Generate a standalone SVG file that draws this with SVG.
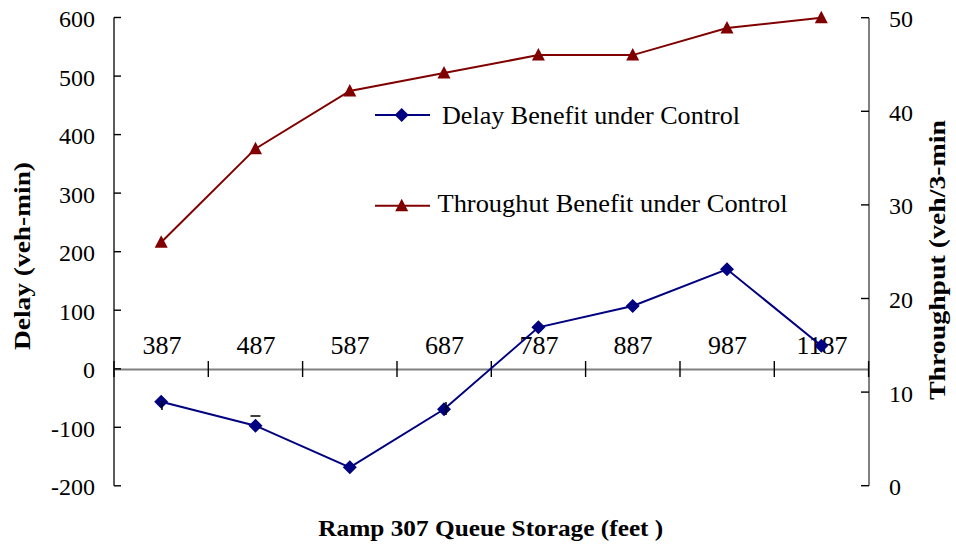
<svg xmlns="http://www.w3.org/2000/svg" width="956" height="548" viewBox="0 0 956 548">
  <style>
    text { font-family: "Liberation Serif", "Times New Roman", serif; fill: #000; }
    .tick { font-size: 24px; }
    .cat { font-size: 26px; text-anchor: middle; }
    .leg { font-size: 26px; }
    .title { font-size: 23px; font-weight: bold; text-anchor: middle; }
    .axis { stroke: #808080; stroke-width: 2; fill: none; }
    .axisL { stroke: #333; stroke-width: 1.6; fill: none; }
    .tk { stroke: #000; stroke-width: 1.4; }
    .delay { stroke: #000080; stroke-width: 2; fill: none; }
    .thru { stroke: #800000; stroke-width: 2; fill: none; }
  </style>
  <defs>
    <polygon id="diamond" points="0,-7 7,0 0,7 -7,0" fill="#000080"/>
    <polygon id="tri" points="0,-7 6.5,5.5 -6.5,5.5" fill="#800000"/>
  </defs>
  <rect width="956" height="548" fill="#fff"/>

  <!-- axes -->
  <g id="axes">
    <line class="axisL" x1="114" y1="17.5" x2="114" y2="485.8"/>
    <line class="axis" x1="869" y1="17.7" x2="869" y2="485.7"/>
    <line class="axis" x1="114" y1="369.5" x2="869" y2="369.5"/>
    <g class="tk">
      <!-- left ticks (inside) -->
      <line x1="114" y1="17.5" x2="121" y2="17.5"/>
      <line x1="114" y1="76.1" x2="121" y2="76.1"/>
      <line x1="114" y1="134.6" x2="121" y2="134.6"/>
      <line x1="114" y1="193.1" x2="121" y2="193.1"/>
      <line x1="114" y1="251.7" x2="121" y2="251.7"/>
      <line x1="114" y1="310.2" x2="121" y2="310.2"/>
      <line x1="114" y1="368.8" x2="121" y2="368.8"/>
      <line x1="114" y1="427.3" x2="121" y2="427.3"/>
      <line x1="114" y1="485.8" x2="121" y2="485.8"/>
      <!-- right ticks (inside) -->
      <line x1="861" y1="17.7" x2="869" y2="17.7"/>
      <line x1="861" y1="111.3" x2="869" y2="111.3"/>
      <line x1="861" y1="204.9" x2="869" y2="204.9"/>
      <line x1="861" y1="298.5" x2="869" y2="298.5"/>
      <line x1="861" y1="392.1" x2="869" y2="392.1"/>
      <line x1="861" y1="485.7" x2="869" y2="485.7"/>
      <!-- category ticks (cross) -->
      <line x1="114" y1="361" x2="114" y2="377"/>
      <line x1="208.3" y1="361" x2="208.3" y2="377"/>
      <line x1="302.6" y1="361" x2="302.6" y2="377"/>
      <line x1="397" y1="361" x2="397" y2="377"/>
      <line x1="491.3" y1="361" x2="491.3" y2="377"/>
      <line x1="585.6" y1="361" x2="585.6" y2="377"/>
      <line x1="680" y1="361" x2="680" y2="377"/>
      <line x1="774.3" y1="361" x2="774.3" y2="377"/>
      <line x1="868.6" y1="361" x2="868.6" y2="377"/>
    </g>
  </g>

  <!-- left axis labels -->
  <g id="left-labels">
    <text x="95" y="27" class="tick" text-anchor="end">600</text>
    <text x="95" y="85.6" class="tick" text-anchor="end">500</text>
    <text x="95" y="144.1" class="tick" text-anchor="end">400</text>
    <text x="95" y="202.6" class="tick" text-anchor="end">300</text>
    <text x="95" y="261.2" class="tick" text-anchor="end">200</text>
    <text x="95" y="319.7" class="tick" text-anchor="end">100</text>
    <text x="95" y="378.3" class="tick" text-anchor="end">0</text>
    <text x="95" y="436.8" class="tick" text-anchor="end">-100</text>
    <text x="95" y="495.3" class="tick" text-anchor="end">-200</text>
  </g>

  <!-- right axis labels -->
  <g id="right-labels">
    <text x="889" y="27.2" class="tick">50</text>
    <text x="889" y="120.8" class="tick">40</text>
    <text x="889" y="214.4" class="tick">30</text>
    <text x="889" y="308" class="tick">20</text>
    <text x="889" y="401.6" class="tick">10</text>
    <text x="889" y="495.2" class="tick">0</text>
  </g>

  <!-- category labels -->
  <g id="categories">
    <text x="162" y="353.5" class="cat">387</text>
    <text x="256" y="353.5" class="cat">487</text>
    <text x="350" y="353.5" class="cat">587</text>
    <text x="444.5" y="353.5" class="cat">687</text>
    <text x="539" y="353.5" class="cat">787</text>
    <text x="633" y="353.5" class="cat">887</text>
    <text x="727.5" y="353.5" class="cat">987</text>
    <text x="822" y="353.5" class="cat">1187</text>
  </g>

  <!-- data series -->
  <g id="connectors">
    <polyline id="delay-line" class="delay" points="161.2,401.7 255.5,425.7 349.8,467.3 444,409.3 538.4,327.3 632.7,306 727,269.3 821.3,345.7"/>
    <polyline id="thru-line" class="thru" points="161.2,242.3 255.5,148.7 349.8,91 444,73 538.4,55.1 632.7,55.1 727,28 821.3,17.7"/>
    <line class="delay" x1="375" y1="115" x2="430" y2="115"/>
    <line class="thru" x1="375" y1="205.7" x2="430" y2="205.7"/>
  </g>

  <g id="delay-points">
    <use href="#diamond" x="161.2" y="401.7"/>
    <use href="#diamond" x="255.5" y="425.7"/>
    <use href="#diamond" x="349.8" y="467.3"/>
    <use href="#diamond" x="444" y="409.3"/>
    <use href="#diamond" x="538.4" y="327.3"/>
    <use href="#diamond" x="632.7" y="306"/>
    <use href="#diamond" x="727" y="269.3"/>
    <use href="#diamond" x="821.3" y="345.7"/>
    <!-- small error-bar stubs -->
    <line x1="162" y1="401" x2="162" y2="410" stroke="#000" stroke-width="1.5"/>
    <line x1="250.5" y1="416" x2="260.5" y2="416" stroke="#000" stroke-width="1.5"/>
    <line x1="446" y1="402" x2="446" y2="415" stroke="#000" stroke-width="1.5"/>
  </g>

  <g id="thru-points">
    <use href="#tri" x="161.2" y="242.3"/>
    <use href="#tri" x="255.5" y="148.7"/>
    <use href="#tri" x="349.8" y="91"/>
    <use href="#tri" x="444" y="73"/>
    <use href="#tri" x="538.4" y="55.1"/>
    <use href="#tri" x="632.7" y="55.1"/>
    <use href="#tri" x="727" y="28"/>
    <use href="#tri" x="821.3" y="17.7"/>
  </g>

  <!-- legend -->
  <g id="legend">
    <use href="#diamond" x="401.7" y="115"/>
    <use href="#tri" x="401.7" y="205.7"/>
    <text x="442" y="124.3" class="leg" textLength="298" lengthAdjust="spacingAndGlyphs">Delay Benefit under Control</text>
    <text x="437.5" y="211.7" class="leg" textLength="350" lengthAdjust="spacingAndGlyphs">Throughut Benefit under Control</text>
  </g>

  <!-- axis titles -->
  <g id="titles">
    <text class="title" x="490.8" y="536" textLength="345" lengthAdjust="spacingAndGlyphs">Ramp 307 Queue Storage (feet )</text>
    <text class="title" transform="translate(30,256) rotate(-90)" textLength="188" lengthAdjust="spacingAndGlyphs">Delay (veh-min)</text>
    <text class="title" transform="translate(945,260) rotate(-90)" textLength="280" lengthAdjust="spacingAndGlyphs">Throughput (veh/3-min</text>
  </g>
</svg>
